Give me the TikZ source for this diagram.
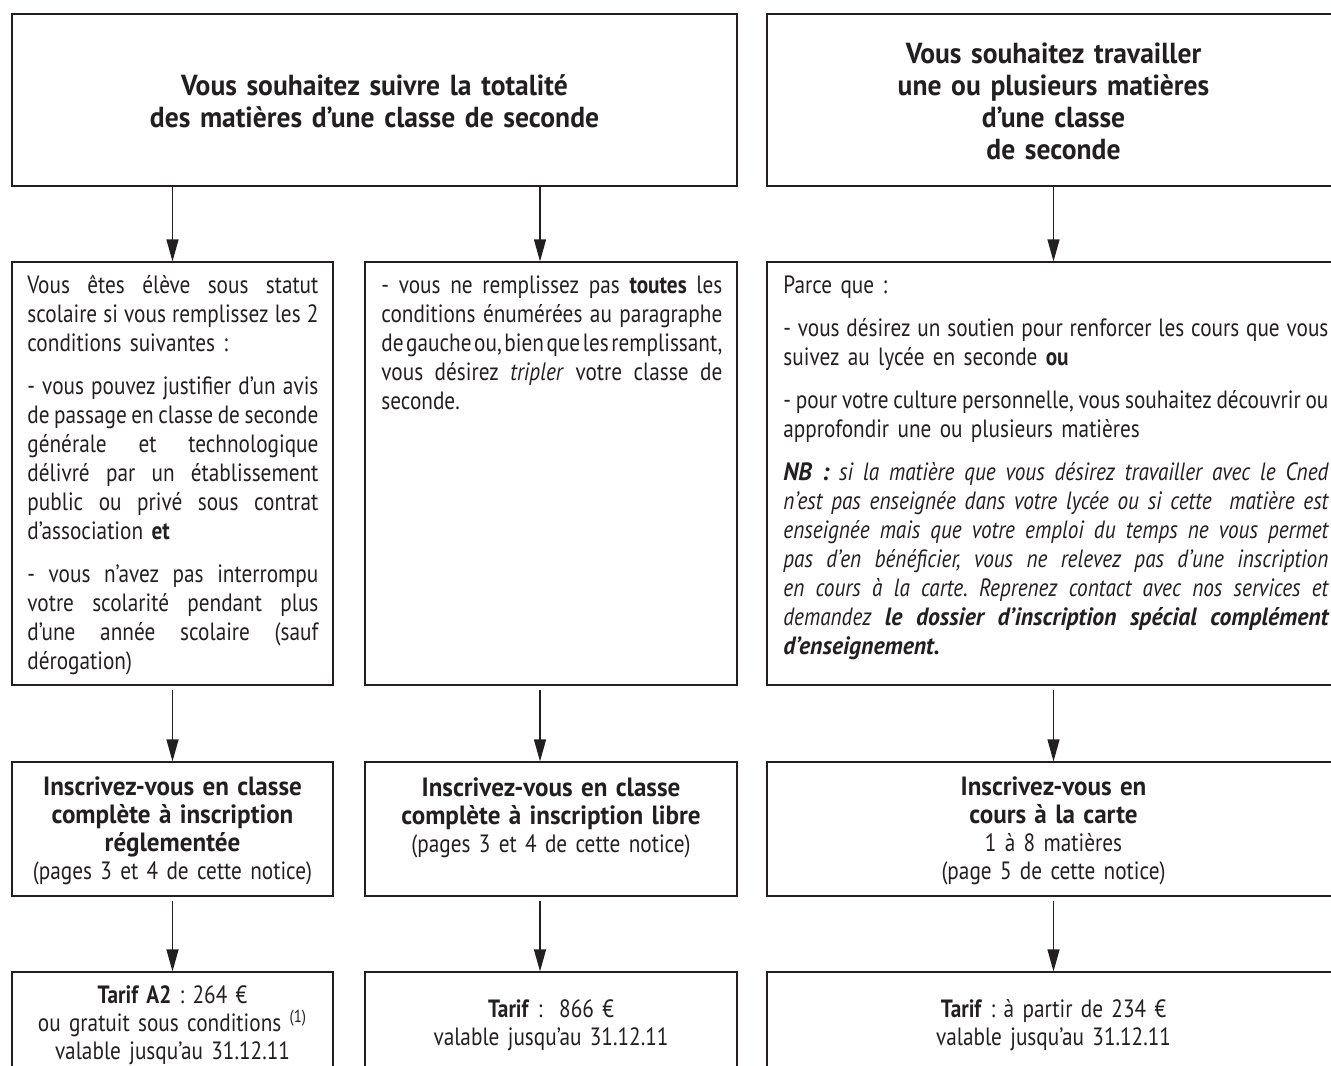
\documentclass[tikz,border=0pt]{standalone}
\usepackage{fontspec}
\setmainfont{PT Sans}[FakeStretch=0.85]
\newfontfamily\headfont{PT Sans}[FakeStretch=0.95]
\usepackage{tikz}
\usetikzlibrary{arrows.meta}
\usetikzlibrary{fit}
\definecolor{ink}{HTML}{231F20}
\setlength{\parindent}{0pt}
\frenchspacing
\newcommand{\jl}[1]{\makebox[\linewidth][s]{\spaceskip=0.1em plus 10em\relax#1}\par}

\begin{document}
\begin{tikzpicture}[x=0.5pt,y=-0.5pt,
    box/.style={draw=ink,line width=0.6pt,inner sep=0pt},
    arr/.style={draw=ink,line width=0.6pt,-{Triangle[length=11pt,width=6pt]}},
    head/.style={text=ink,inner sep=0pt,align=center,font=\headfont\fontsize{14.5}{16}\selectfont\bfseries},
    reg/.style={text=ink,inner sep=0pt,align=center,font=\fontsize{12.5}{14}\selectfont},
    para/.style={text=ink,inner sep=0pt,anchor=north west,align=left,font=\fontsize{12.5}{14.5}\selectfont}]
    \useasboundingbox (0,0) rectangle (1331,1065);
    \coordinate (colB) at (540,0);

    \node[box,fit={(12,14) (737,186)}] (topL) {};
    \node[box,fit={(767,14) (1340,186)}] (topR) {};
    \node[head,text width=340pt,yshift=-0.5pt] (topLtxt) at (topL.center) {Vous souhaitez suivre la totalité\\des matières d’une classe de seconde};
    \node[head,text width=260pt,yshift=-0.5pt] (topRtxt) at (topR.center) {Vous souhaitez travailler\\une ou plusieurs matières\\d’une classe\\de seconde};

    \node[box,fit={(12,262) (333,685)}] (midA) {};
    \node[box,fit={(365,262) (737,685)}] (midB) {};
    \node[box,fit={(767,262) (1340,685)}] (midC) {};
    \node[para,text width=145.5pt] (txtA) at (27,275) {\jl{Vous êtes élève sous statut}\jl{scolaire si vous remplissez les 2}conditions suivantes~:\par\vspace{7pt}
        \jl{- vous pouvez justifier d’un avis}\jl{de passage en classe de seconde}\jl{générale et technologique}\jl{délivré par un établissement}\jl{public ou privé sous contrat}d’association \textbf{et}\par\vspace{7pt}
        \jl{- vous n’avez pas interrompu}\jl{votre scolarité pendant plus}\jl{d’une année scolaire (sauf}dérogation)\par};
    \node[para,text width=170.5pt] (txtB) at (381,275) {\jl{- vous ne remplissez pas \textbf{toutes} les}\jl{conditions énumérées au paragraphe}\jl{de gauche ou, bien que les remplissant,}\jl{vous désirez \textit{tripler} votre classe de}seconde.\par};
    \node[para,text width=272.5pt] (txtC) at (783,275) {Parce que~:\par\vspace{7pt}
        \jl{- vous désirez un soutien pour renforcer les cours que vous}suivez au lycée en seconde \textbf{ou}\par\vspace{7pt}
        \jl{- pour votre culture personnelle, vous souhaitez découvrir ou}approfondir une ou plusieurs matières\par\vspace{7pt}
        \itshape\jl{{\headfont\bfseries NB~:} si la matière que vous désirez travailler avec le Cned}\jl{n’est pas enseignée dans votre lycée ou si cette\ \ matière est}\jl{enseignée mais que votre emploi du temps ne vous permet}\jl{pas d’en bénéficier, vous ne relevez pas d’une inscription}\jl{en cours à la carte. Reprenez contact avec nos services et}\jl{demandez {\headfont\bfseries le dossier d’inscription spécial complément}}{\headfont\bfseries d’enseignement.}\par};

    \node[box,fit={(12,762) (333,896)}] (insA) {};
    \node[box,fit={(365,762) (737,896)}] (insB) {};
    \node[box,fit={(767,762) (1340,896)}] (insC) {};
    \node[reg,text width=155pt,yshift=-1pt] (insAtxt) at (insA.center) {{\headfont\fontsize{13.2}{14}\selectfont\bfseries Inscrivez-vous en classe\\complète à inscription\\réglementée\\}(pages 3 et 4 de cette notice)};
    \node[reg,text width=180pt,anchor=north] (insBtxt) at (551,777) {{\headfont\fontsize{13.2}{14}\selectfont\bfseries Inscrivez-vous en classe\\complète à inscription libre\\}(pages 3 et 4 de cette notice)};
    \node[reg,text width=260pt,yshift=-1pt] (insCtxt) at (insC.center) {{\headfont\fontsize{13.2}{14}\selectfont\bfseries Inscrivez-vous en\\cours à la carte\\}1 à 8 matières\\(page 5 de cette notice)};

    \node[box,fit={(12,972) (333,1070)}] (tarA) {};
    \node[box,fit={(365,972) (737,1070)}] (tarB) {};
    \node[box,fit={(767,972) (1340,1070)}] (tarC) {};
    \node[reg,text width=155pt,yshift=-2pt] (tarAtxt) at (tarA.center) {\textbf{Tarif A2} : 264 €\\ou gratuit sous conditions \textsuperscript{(1)}\\valable jusqu’au 31.12.11};
    \node[reg,text width=180pt,yshift=-2pt] (tarBtxt) at (tarB.center) {\textbf{Tarif} :\ \ 866 €\\valable jusqu’au 31.12.11};
    \node[reg,text width=260pt,yshift=-2pt] (tarCtxt) at (tarC.center) {\textbf{Tarif} : à partir de 234 €\\valable jusqu’au 31.12.11};

    \draw[arr] (topL.south -| midA.north) -- (midA.north);
    \draw[arr] (topL.south -| colB) -- (colB |- midB.north);
    \draw[arr] (topR.south) -- (midC.north);
    \draw[arr,shorten <=2pt] (midA.south) -- (insA.north);
    \draw[arr,shorten <=2pt] (midB.south -| colB) -- (colB |- insB.north);
    \draw[arr,shorten <=2pt] (midC.south) -- (insC.north);
    \draw[arr,shorten <=2pt] (insA.south) -- (tarA.north);
    \draw[arr,shorten <=2pt] (insB.south -| colB) -- (colB |- tarB.north);
    \draw[arr,shorten <=2pt] (insC.south) -- (tarC.north);
\end{tikzpicture}
\end{document}
